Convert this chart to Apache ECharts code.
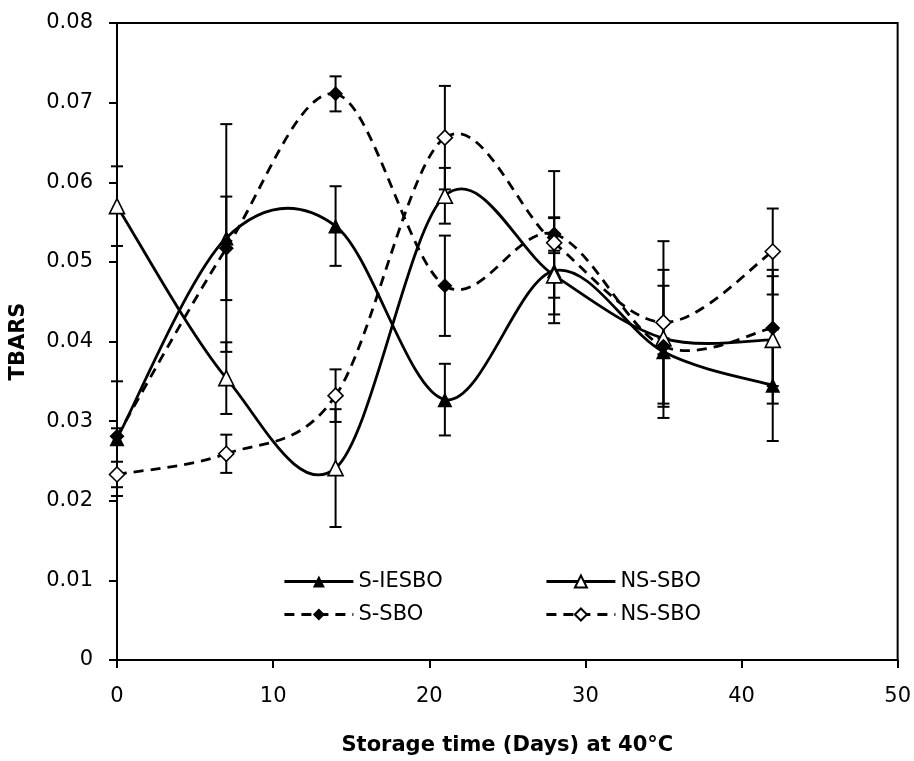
<!DOCTYPE html>
<html>
<head>
<meta charset="utf-8">
<script src="https://cdn.jsdelivr.net/npm/echarts@6/dist/echarts.min.js"></script>
<style>
html,body{margin:0;padding:0;background:#fff;}
#chart{width:914px;height:761px;}
</style>
</head>
<body>
<div id="chart"></div>
<script>
// Storage days
const days = [0, 7, 14, 21, 28, 35, 42];
// S-IESBO (filled triangle, solid)
const sIesbo    = [0.0278, 0.0530, 0.0545, 0.0327, 0.0489, 0.0387, 0.0345];
const sIesboErr = [0.0072, 0.0143, 0.0050, 0.0045, 0.0066, 0.0083, 0.0070];
// NS-SBO (open triangle, solid)
const nsTri     = [0.0570, 0.0354, 0.0241, 0.0583, 0.0483, 0.0404, 0.0402];
const nsTriErr  = [0.0050, 0.0045, 0.0074, 0.0035, 0.0028, 0.0086, 0.0080];
// S-SBO (filled diamond, dashed)
const sSbo      = [0.0281, 0.0517, 0.0711, 0.0470, 0.0535, 0.0394, 0.0417];
const sSboErr   = [0.0010, 0.0065, 0.0022, 0.0063, 0.0021, 0.0010, 0.0073];
// NS-SBO (open diamond, dashed)
const nsDia     = [0.0233, 0.0259, 0.0332, 0.0656, 0.0524, 0.0424, 0.0513];
const nsDiaErr  = [0.0016, 0.0024, 0.0033, 0.0065, 0.0090, 0.0102, 0.0054];

const xTicks = [0, 10, 20, 30, 40, 50];
const yTicks = [0, 0.01, 0.02, 0.03, 0.04, 0.05, 0.06, 0.07, 0.08];

const FONT = 'DejaVu Sans';
const LW = 2.8;
const DASH = [10, 7];

function pts(vals){ return days.map((d,i)=>[d, vals[i]]); }
function errPts(vals, errs){ return days.map((d,i)=>[d, vals[i], errs[i]]); }

function errorRender(params, api){
  const x = api.value(0), y = api.value(1), e = api.value(2);
  const top = api.coord([x, y + e]);
  const bot = api.coord([x, y - e]);
  const hw = 6;
  const st = {stroke:'#000', lineWidth:2};
  return {type:'group', children:[
    {type:'line', shape:{x1:top[0], y1:top[1], x2:bot[0], y2:bot[1]}, style:st},
    {type:'line', shape:{x1:top[0]-hw, y1:top[1], x2:top[0]+hw, y2:top[1]}, style:st},
    {type:'line', shape:{x1:bot[0]-hw, y1:bot[1], x2:bot[0]+hw, y2:bot[1]}, style:st}
  ]};
}

function errSeries(name, vals, errs){
  return {type:'custom', name:name, renderItem:errorRender, data:errPts(vals, errs),
    encode:{x:0, y:1}, z:1, silent:true};
}

// Smoothed curve (Catmull-Rom style, like spreadsheet smoothed lines), one segment per item
function curveSeries(name, vals, dashed){
  const n = vals.length;
  return {
    type:'custom', name:name, data:pts(vals), encode:{x:0, y:1}, z:2, silent:true,
    renderItem:function(params, api){
      const i = params.dataIndex;
      if (i >= n - 1) return null;
      const P = k => api.coord([days[Math.max(0, Math.min(n-1, k))], vals[Math.max(0, Math.min(n-1, k))]]);
      const p0 = P(i-1), p1 = P(i), p2 = P(i+1), p3 = P(i+2);
      const cp1 = [p1[0] + (p2[0]-p0[0])/6, p1[1] + (p2[1]-p0[1])/6];
      const cp2 = [p2[0] - (p3[0]-p1[0])/6, p2[1] - (p3[1]-p1[1])/6];
      return {type:'bezierCurve',
        shape:{x1:p1[0], y1:p1[1], x2:p2[0], y2:p2[1], cpx1:cp1[0], cpy1:cp1[1], cpx2:cp2[0], cpy2:cp2[1]},
        style:{stroke:'#000', lineWidth:LW, fill:null, lineDash: dashed ? DASH : null}};
    }
  };
}

function markerSeries(name, vals, symbol, filled, dashed){
  return {
    type:'line', name:name, data:pts(vals),
    symbol:symbol, symbolSize: 15,
    lineStyle:{color:'#000', width:LW, type: dashed ? DASH : 'solid', opacity:0},
    itemStyle:{color: filled ? '#000' : '#fff', borderColor:'#000', borderWidth: filled ? 0 : 1.6},
    z:3, animation:false
  };
}

function legendItem(name, dashed){
  return {name:name, lineStyle:{color:'#000', width:LW, opacity:1, type: dashed ? DASH : 'solid'}};
}

const legendText = {fontFamily:FONT, fontSize:21, color:'#000'};

const chart = echarts.init(document.getElementById('chart'), null, {renderer:'canvas'});
chart.setOption({
  animation:false,
  backgroundColor:'#fff',
  grid:{left:116, right:15, top:23, bottom:98, show:true, borderColor:'#000', borderWidth:2},
  xAxis:{
    type:'value', min:xTicks[0], max:xTicks[xTicks.length-1], interval:10,
    name:'Storage time (Days) at 40°C', nameLocation:'middle', nameGap:75,
    nameTextStyle:{fontFamily:FONT, fontSize:21, fontWeight:'bold', color:'#000'},
    axisLine:{lineStyle:{color:'#000', width:2}},
    axisTick:{show:true, inside:false, length:8, lineStyle:{color:'#000', width:2}},
    axisLabel:{fontFamily:FONT, fontSize:21, color:'#000', margin:26},
    splitLine:{show:false}
  },
  yAxis:{
    type:'value', min:yTicks[0], max:yTicks[yTicks.length-1], interval:0.01,
    name:'TBARS', nameLocation:'middle', nameGap:88, nameRotate:90,
    nameTextStyle:{fontFamily:FONT, fontSize:21, fontWeight:'bold', color:'#000'},
    axisLine:{lineStyle:{color:'#000', width:2}},
    axisTick:{show:true, inside:false, length:8, lineStyle:{color:'#000', width:2}},
    axisLabel:{fontFamily:FONT, fontSize:21, color:'#000', margin:24,
      formatter:v => v===0 ? '0' : v.toFixed(2)},
    splitLine:{show:false}
  },
  legend:[
    {data:[legendItem('S-IESBO', false), legendItem('S-SBO', true)], orient:'vertical', padding:0,
     left:283, top:571, itemWidth:69, itemHeight:15, itemGap:12, selectedMode:false, textStyle:legendText},
    {data:[legendItem('NS-SBO', false), legendItem('NS-SBO ', true)], orient:'vertical', padding:0,
     left:545, top:571, itemWidth:69, itemHeight:15, itemGap:12, selectedMode:false,
     formatter:n => n.trim(), textStyle:legendText}
  ],
  series:[
    errSeries('e1', sIesbo, sIesboErr),
    errSeries('e2', nsTri, nsTriErr),
    errSeries('e3', sSbo, sSboErr),
    errSeries('e4', nsDia, nsDiaErr),
    curveSeries('c1', sIesbo, false),
    curveSeries('c2', nsTri, false),
    curveSeries('c3', sSbo, true),
    curveSeries('c4', nsDia, true),
    markerSeries('S-IESBO', sIesbo, 'triangle', true, false),
    markerSeries('NS-SBO', nsTri, 'triangle', false, false),
    markerSeries('S-SBO', sSbo, 'diamond', true, true),
    markerSeries('NS-SBO ', nsDia, 'diamond', false, true)
  ]
});
</script>
</body>
</html>
